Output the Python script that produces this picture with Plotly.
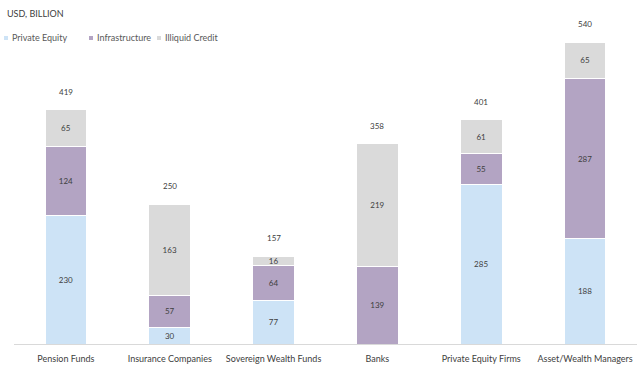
import plotly.graph_objects as go

categories = ["Pension Funds", "Insurance Companies", "Sovereign Wealth Funds", "Banks",
              "Private Equity Firms", "Asset/Wealth Managers"]
private_equity = [230, 30, 77, 0, 285, 188]
infrastructure = [124, 57, 64, 139, 55, 287]
illiquid_credit = [65, 163, 16, 219, 61, 65]
totals = [419, 250, 157, 358, 401, 540]

series = [
    ("Private Equity", private_equity, "#cde3f6"),
    ("Infrastructure", infrastructure, "#b3a4c3"),
    ("Illiquid Credit", illiquid_credit, "#dadada"),
]

FONT = "Lato, sans-serif"
TXT = "#404040"

W, H = 638, 368
L, R, T, B = 14, 1, 22, 24
PW = W - L - R
PH = H - T - B

def px(xp):
    return (xp - L) / PW

def py(yp):
    return 1 + (T - yp) / PH

fig = go.Figure()
for name, vals, col in series:
    fig.add_trace(go.Bar(
        x=categories, y=vals, name=name,
        marker=dict(color=col, line=dict(color="white", width=1)),
        text=[str(v) if v else "" for v in vals],
        textposition="inside", insidetextanchor="middle",
        textangle=0, constraintext="none",
        textfont=dict(family=FONT, size=8, color=TXT),
        width=0.4, showlegend=False,
    ))

for c, t in zip(categories, totals):
    fig.add_annotation(x=c, y=t, text=str(t), showarrow=False, yanchor="middle",
                       yshift=18, font=dict(family=FONT, size=8, color=TXT))

# title
fig.add_annotation(text="USD, BILLION", x=px(5), y=py(13),
                   xref="paper", yref="paper", xanchor="left", yanchor="middle",
                   showarrow=False, font=dict(family=FONT, size=9, color=TXT))

# legend (manual, compact like the reference)
leg_x = [4, 89, 157]
for (name, _, col), lx in zip(series, leg_x):
    fig.add_shape(type="rect", xref="paper", yref="paper",
                  x0=px(lx), x1=px(lx + 4), y0=py(40), y1=py(36),
                  fillcolor=col, line=dict(width=0))
    fig.add_annotation(
        text=name, x=px(lx + 6), y=py(38), xref="paper", yref="paper",
        xanchor="left", yanchor="middle", showarrow=False,
        font=dict(family=FONT, size=9, color="#595959"))

fig.update_layout(
    barmode="stack",
    width=W, height=H,
    margin=dict(l=L, r=R, t=T, b=B),
    plot_bgcolor="white", paper_bgcolor="white",
    font=dict(family=FONT, size=9, color=TXT),
    showlegend=False,
    xaxis=dict(showline=True, linecolor="#d9d9d9", linewidth=1, ticks="", tickangle=0,
               ticklabelstandoff=6,
               tickfont=dict(family=FONT, size=9, color=TXT)),
    yaxis=dict(visible=False, range=[0, PH * 540 / 302], showgrid=False),
)
fig.write_html("out.html")
